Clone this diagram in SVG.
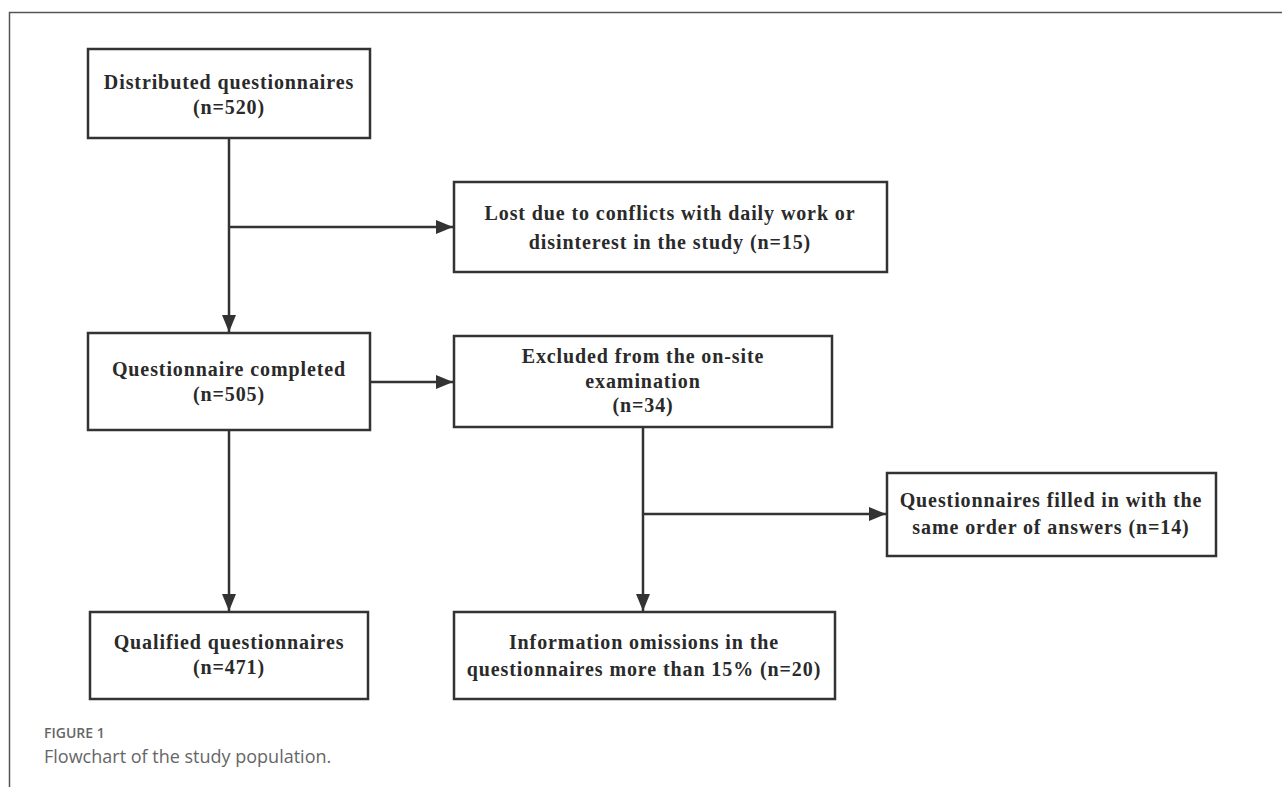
<svg xmlns="http://www.w3.org/2000/svg" width="1282" height="787" viewBox="0 0 1282 787">
<style>
.box{fill:#fff;stroke:#333;stroke-width:2.5}
.t{font-family:"Liberation Serif","Times New Roman",serif;font-weight:bold;font-size:20px;letter-spacing:0.9px;fill:#2a2a2a;text-anchor:middle}
.c{fill:none;stroke:#333;stroke-width:2.5}
.cap1{font-family:"Open Sans",sans-serif;font-size:14px;font-weight:600;fill:#666}
.cap2{font-family:"Open Sans",sans-serif;font-size:18px;fill:#666}
</style>
<defs>
<marker id="arr" viewBox="0 0 17 14" refX="17" refY="7" markerWidth="17" markerHeight="14" markerUnits="userSpaceOnUse" orient="auto">
<path d="M0,0 L17,7 L0,14 Z" fill="#333"/>
</marker>
</defs>
<rect width="1282" height="787" fill="#fff"/>
<path d="M1282,12.5 H9.5 V787" fill="none" stroke="#555" stroke-width="1.5"/>
<g id="connectors">
<line class="c" x1="229" y1="139" x2="229" y2="332" marker-end="url(#arr)"/>
<line class="c" x1="229" y1="227" x2="453" y2="227" marker-end="url(#arr)"/>
<line class="c" x1="370" y1="382" x2="453" y2="382" marker-end="url(#arr)"/>
<line class="c" x1="229" y1="430" x2="229" y2="611" marker-end="url(#arr)"/>
<line class="c" x1="643" y1="427" x2="643" y2="611" marker-end="url(#arr)"/>
<line class="c" x1="643" y1="514" x2="886" y2="514" marker-end="url(#arr)"/>
</g>
<g id="n1">
<rect class="box" x="88" y="49" width="282" height="89"/>
<text class="t" x="229" y="89">Distributed questionnaires</text>
<text class="t" x="229" y="114">(n=520)</text>
</g>
<g id="n2">
<rect class="box" x="454" y="182" width="433" height="90"/>
<text class="t" x="670" y="220">Lost due to conflicts with daily work or</text>
<text class="t" x="670" y="249">disinterest in the study (n=15)</text>
</g>
<g id="n3">
<rect class="box" x="88" y="333" width="282" height="97"/>
<text class="t" x="229" y="376">Questionnaire completed</text>
<text class="t" x="229" y="401">(n=505)</text>
</g>
<g id="n4">
<rect class="box" x="454" y="336" width="378" height="91"/>
<text class="t" x="643" y="363">Excluded from the on-site</text>
<text class="t" x="643" y="388">examination</text>
<text class="t" x="643" y="412">(n=34)</text>
</g>
<g id="n5">
<rect class="box" x="887" y="473" width="329" height="83"/>
<text class="t" x="1051" y="507">Questionnaires filled in with the</text>
<text class="t" x="1051" y="534">same order of answers (n=14)</text>
</g>
<g id="n6">
<rect class="box" x="90" y="612" width="278" height="87"/>
<text class="t" x="229" y="649">Qualified questionnaires</text>
<text class="t" x="229" y="674">(n=471)</text>
</g>
<g id="n7">
<rect class="box" x="454" y="612" width="381" height="87"/>
<text class="t" x="644" y="649">Information omissions in the</text>
<text class="t" x="644" y="676">questionnaires more than 15% (n=20)</text>
</g>
<text class="cap1" x="44" y="738">FIGURE 1</text>
<text class="cap2" x="44" y="763">Flowchart of the study population.</text>
</svg>
